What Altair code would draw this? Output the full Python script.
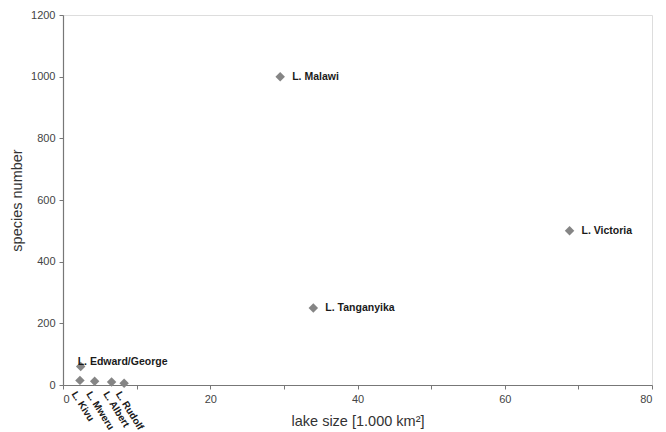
import altair as alt
import pandas as pd

lakes = ["L. Malawi", "L. Victoria", "L. Tanganyika", "L. Edward/George",
         "L. Kivu", "L. Mweru", "L. Albert", "L. Rudolf"]
lake_size = [29.5, 68.8, 34.0, 2.4, 2.3, 4.3, 6.6, 8.3]
species = [1000, 500, 250, 60, 15, 12, 10, 6]
label_pos = ["right", "right", "right", "above", "below", "below", "below", "below"]

df = pd.DataFrame({"lake": lakes, "size": lake_size, "species": species, "pos": label_pos})

axis_common = dict(grid=False, tickSize=4, domainColor="#777777", tickColor="#777777",
                   domainWidth=1.2, labelFont="Liberation Sans", labelFontSize=11,
                   labelColor="#444444", titleFont="Liberation Sans", titleFontSize=14.5,
                   titleFontWeight="normal", titleColor="#333333", labelPadding=4, format="d")

x = alt.X("size:Q", scale=alt.Scale(domain=[0, 80], nice=False),
          axis=alt.Axis(title="lake size [1.000 km²]", values=list(range(0, 81, 10)),
                        labelExpr="datum.value % 20 == 0 ? datum.label : ''",
                        titlePadding=10, **axis_common))
y = alt.Y("species:Q", scale=alt.Scale(domain=[0, 1200], nice=False),
          axis=alt.Axis(title="species number", values=list(range(0, 1201, 200)),
                        titlePadding=6, **axis_common))

base = alt.Chart(df).encode(x=x, y=y)

points = base.mark_point(shape="diamond", filled=True, size=90, color="#858585", opacity=1)

txt_style = dict(font="Liberation Sans", fontWeight="bold", color="#1a1a1a")

right = base.transform_filter("datum.pos == 'right'").mark_text(
    align="left", baseline="middle", dx=12, fontSize=10.5, **txt_style).encode(text="lake:N")
above = base.transform_filter("datum.pos == 'above'").mark_text(
    align="left", baseline="middle", dx=-3, dy=-5, fontSize=10.5, **txt_style).encode(text="lake:N")
below = alt.Chart(df).transform_filter("datum.pos == 'below'").transform_calculate(
    y0="0").mark_text(
    align="left", baseline="top", angle=58, dx=3, dy=4, fontSize=10, **txt_style).encode(
    x=alt.X("size:Q"), y=alt.Y("y0:Q"), text="lake:N")

chart = alt.layer(points, right, above, below).properties(
    width=589, height=370,
    autosize=alt.AutoSizeParams(type="none"),
    padding={"left": 55, "top": 7, "right": 6, "bottom": 47},
).configure_view(stroke="#8a8a8a", strokeWidth=1.2).configure(background="white")

chart.save("out.html", embed_options={"renderer": "svg", "actions": False})
